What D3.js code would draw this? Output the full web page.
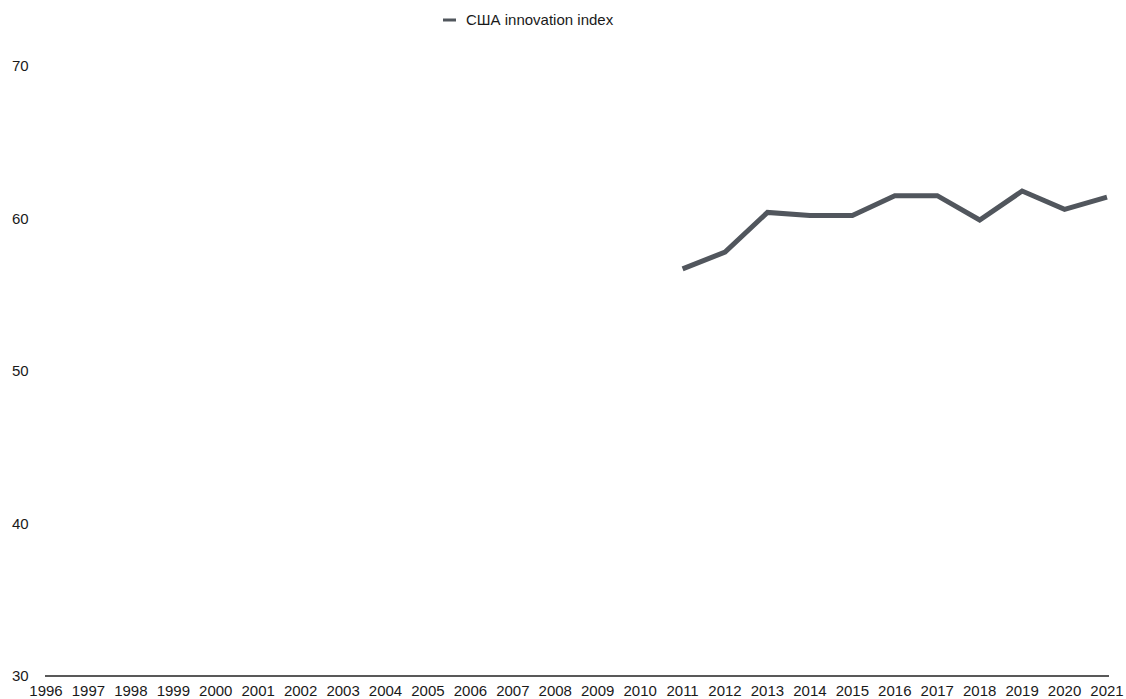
<!DOCTYPE html>
<html>
<head>
<meta charset="utf-8">
<script src="https://cdn.jsdelivr.net/npm/d3@7"></script>
<style>
  body { margin: 0; background: #fff; }
  text { font-family: "Liberation Sans", Arial, sans-serif; fill: #1a1a1a; }
</style>
</head>
<body>
<script>
var years = d3.range(1996, 2022);
var dataYears = [2011, 2012, 2013, 2014, 2015, 2016, 2017, 2018, 2019, 2020, 2021];
var usaIndex = [56.7, 57.8, 60.4, 60.2, 60.2, 61.5, 61.5, 59.9, 61.8, 60.6, 61.4];
var yTicks = [30, 40, 50, 60, 70];
var seriesName = "США innovation index";

var width = 1126,
    height = 699;

var svg = d3.select("body").append("svg")
  .attr("width", width)
  .attr("height", height);

var x = d3.scaleLinear().domain([1996, 2021]).range([46, 1107]);
var y = d3.scaleLinear().domain([30, 70]).range([676, 66]);

// y labels, no axis line
svg.append("g")
  .selectAll("text")
  .data(yTicks)
  .enter()
.append("text")
  .attr("x", 12)
  .attr("y", function(d) { return y(d); })
  .attr("dy", "0.35em")
  .style("font-size", "15px")
  .text(function(d) { return d; });

// baseline
svg.append("line")
  .attr("x1", 45).attr("x2", 1109)
  .attr("y1", y(30)).attr("y2", y(30))
  .attr("stroke", "#222")
  .attr("stroke-width", 1.3);

// year labels
svg.append("g")
  .selectAll("text")
  .data(years)
  .enter()
.append("text")
  .attr("x", function(d) { return x(d); })
  .attr("y", 696)
  .attr("text-anchor", "middle")
  .style("font-size", "15px")
  .text(function(d) { return d; });

var pts = dataYears.map(function(yr, i) { return [yr, usaIndex[i]]; });

svg.append("path")
  .datum(pts)
  .attr("fill", "none")
  .attr("stroke", "#51565d")
  .attr("stroke-width", 5)
  .attr("stroke-linejoin", "miter")
  .attr("d", d3.line()
    .x(function(d) { return x(d[0]); })
    .y(function(d) { return y(d[1]); }));

// legend
var legend = svg.append("g").attr("transform", "translate(443,20)");
legend.append("line")
  .attr("x1", 0).attr("x2", 13)
  .attr("stroke", "#51565d")
  .attr("stroke-width", 3);
legend.append("text")
  .attr("x", 23)
  .attr("dy", "0.35em")
  .style("font-size", "15px")
  .text(seriesName);
</script>
</body>
</html>
